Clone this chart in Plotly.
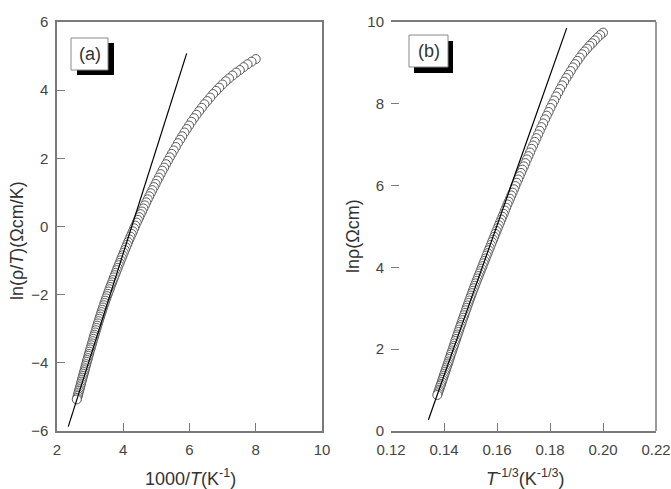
import plotly.graph_objects as go
import math

T_K = [125, 127, 129, 131, 133, 135, 137, 139, 141, 143, 145, 147, 149, 151, 153, 155, 157, 159,
       161, 163, 165, 167, 169, 171, 173, 175, 177, 179, 181, 183, 185, 187, 189, 191, 193, 195,
       197, 199, 201, 203, 205, 207, 209, 211, 213, 215, 217, 219, 221, 223, 225, 227, 229, 231,
       233, 235, 237, 239, 241, 243, 245, 247, 249, 251, 253, 255, 257, 259, 261, 263, 265, 267,
       269, 271, 273, 275, 277, 279, 281, 283, 285, 287, 289, 291, 293, 295, 297, 299, 301, 303,
       305, 307, 309, 311, 313, 315, 317, 319, 321, 323, 325, 327, 329, 331, 333, 335, 337, 339,
       341, 343, 345, 347, 349, 351, 353, 355, 357, 359, 361, 363, 365, 367, 369, 371, 373, 375,
       377, 379, 381, 383, 385]
ln_rho = [9.74, 9.68, 9.62, 9.55, 9.48, 9.42, 9.35, 9.28, 9.21, 9.13, 9.05, 8.97, 8.89, 8.80, 8.71,
          8.63, 8.54, 8.45, 8.36, 8.27, 8.18, 8.08, 7.99, 7.90, 7.80, 7.71, 7.62, 7.52, 7.43, 7.34,
          7.25, 7.16, 7.07, 6.98, 6.90, 6.81, 6.72, 6.64, 6.55, 6.47, 6.39, 6.31, 6.23, 6.15, 6.07,
          5.99, 5.91, 5.83, 5.76, 5.68, 5.61, 5.54, 5.46, 5.39, 5.31, 5.24, 5.17, 5.10, 5.03, 4.96,
          4.89, 4.82, 4.75, 4.68, 4.62, 4.55, 4.48, 4.42, 4.35, 4.29, 4.22, 4.16, 4.10, 4.03, 3.97,
          3.91, 3.85, 3.79, 3.73, 3.67, 3.61, 3.55, 3.49, 3.43, 3.37, 3.31, 3.25, 3.19, 3.13, 3.07,
          3.01, 2.95, 2.89, 2.83, 2.77, 2.71, 2.65, 2.59, 2.54, 2.48, 2.42, 2.36, 2.31, 2.25, 2.20,
          2.14, 2.08, 2.03, 1.97, 1.92, 1.87, 1.81, 1.76, 1.70, 1.65, 1.60, 1.55, 1.50, 1.45, 1.40,
          1.35, 1.30, 1.25, 1.20, 1.15, 1.11, 1.06, 1.01, 0.97, 0.92, 0.88]

# Straight-line fits (end points)
fit_a_x = [2.34, 5.915]
fit_a_y = [-5.87, 5.08]
fit_b_x = [0.1341, 0.1863]
fit_b_y = [0.27, 9.85]

# Axis ticks
xa_ticks = [2, 4, 6, 8, 10]
ya_ticks = [-6, -4, -2, 0, 2, 4, 6]
xb_ticks = [0.12, 0.14, 0.16, 0.18, 0.20, 0.22]
yb_ticks = [0, 2, 4, 6, 8, 10]

xa = [1000.0 / t for t in T_K]
ya = [r - math.log(t) for r, t in zip(ln_rho, T_K)]
xb = [t ** (-1.0 / 3.0) for t in T_K]
yb = ln_rho

W, H = 671, 489
def px(x):
    return x / W
def py(y):
    return 1 - y / H

mk = dict(symbol="circle", size=9, color="white", line=dict(color="#5a5a5a", width=1))
fig = go.Figure()
fig.add_trace(go.Scatter(x=xa, y=ya, mode="markers", marker=mk, xaxis="x", yaxis="y", showlegend=False))
fig.add_trace(go.Scatter(x=fit_a_x, y=fit_a_y, mode="lines", line=dict(color="black", width=1.2),
                         xaxis="x", yaxis="y", showlegend=False))
fig.add_trace(go.Scatter(x=xb, y=yb, mode="markers", marker=mk, xaxis="x2", yaxis="y2", showlegend=False))
fig.add_trace(go.Scatter(x=fit_b_x, y=fit_b_y, mode="lines", line=dict(color="black", width=1.2),
                         xaxis="x2", yaxis="y2", showlegend=False))

axcol = "#7a7a7a"
tickfont = dict(family="Liberation Sans, Arial, sans-serif", size=15, color="#444")
common = dict(showgrid=False, zeroline=False, ticks="inside", ticklen=8, tickwidth=1.3,
              tickcolor=axcol, tickfont=tickfont, linecolor=axcol, linewidth=1.5,
              automargin=False)

fig.update_layout(
    template="none",
    width=W, height=H,
    margin=dict(l=0, r=0, t=0, b=0, pad=0),
    paper_bgcolor="white", plot_bgcolor="white",
    xaxis=dict(domain=[px(57), px(322)], range=[2, 10], tickvals=xa_ticks, showline=True,
               mirror=True, anchor="y", ticklabelstandoff=4, **common),
    yaxis=dict(domain=[py(431), py(22)], range=[-6, 6], tickvals=ya_ticks, showline=True,
               mirror=True, anchor="x", ticklabelstandoff=4, **common),
    xaxis2=dict(domain=[px(391), px(656)], range=[0.12, 0.22], tickvals=xb_ticks,
                ticktext=["%.2f" % v for v in xb_ticks], showline=True, mirror=True,
                anchor="y2", ticklabelstandoff=4, **common),
    yaxis2=dict(domain=[py(431), py(22)], range=[0, 10], tickvals=yb_ticks, showline=False,
                anchor="x2", ticklabelstandoff=6, **common),
)

shapes = []
# right border of panel (b)
shapes.append(dict(type="line", xref="paper", yref="paper", x0=px(656), x1=px(656),
                   y0=py(431), y1=py(22), line=dict(color=axcol, width=1.5)))
# label boxes with shadow
for (bx0, by0, bx1, by1, sx, sy) in [(71, 38, 108, 70, 6, 5), (409, 35, 448, 67, 5, 6)]:
    shapes.append(dict(type="rect", xref="paper", yref="paper", x0=px(bx0 + sx), x1=px(bx1 + sx),
                       y0=py(by1 + sy), y1=py(by0 + sy), fillcolor="black", line=dict(width=0)))
    shapes.append(dict(type="rect", xref="paper", yref="paper", x0=px(bx0), x1=px(bx1),
                       y0=py(by1), y1=py(by0), fillcolor="white", line=dict(color="#888", width=1)))
fig.update_layout(shapes=shapes)

tf = dict(family="Liberation Sans, Arial, sans-serif", size=18, color="#333")
ann = [
    dict(text="(a)", x=px(89.5), y=py(54), font=tf),
    dict(text="(b)", x=px(428.5), y=py(51), font=tf),
    dict(text="1000/<i>T</i>(K<sup>-1</sup>)", x=px(190), y=py(477), font=tf),
    dict(text="<i>T</i><sup>-1/3</sup>(K<sup>-1/3</sup>)", x=px(525), y=py(477), font=tf),
    dict(text="ln(ρ/<i>T</i>)(Ωcm/K)", x=px(17), y=py(241), font=tf, textangle=-90),
    dict(text="lnρ(Ωcm)", x=px(353), y=py(236), font=tf, textangle=-90),
]
for a in ann:
    a.update(xref="paper", yref="paper", showarrow=False, xanchor="center", yanchor="middle")
fig.update_layout(annotations=ann)

fig.write_html("out.html")
